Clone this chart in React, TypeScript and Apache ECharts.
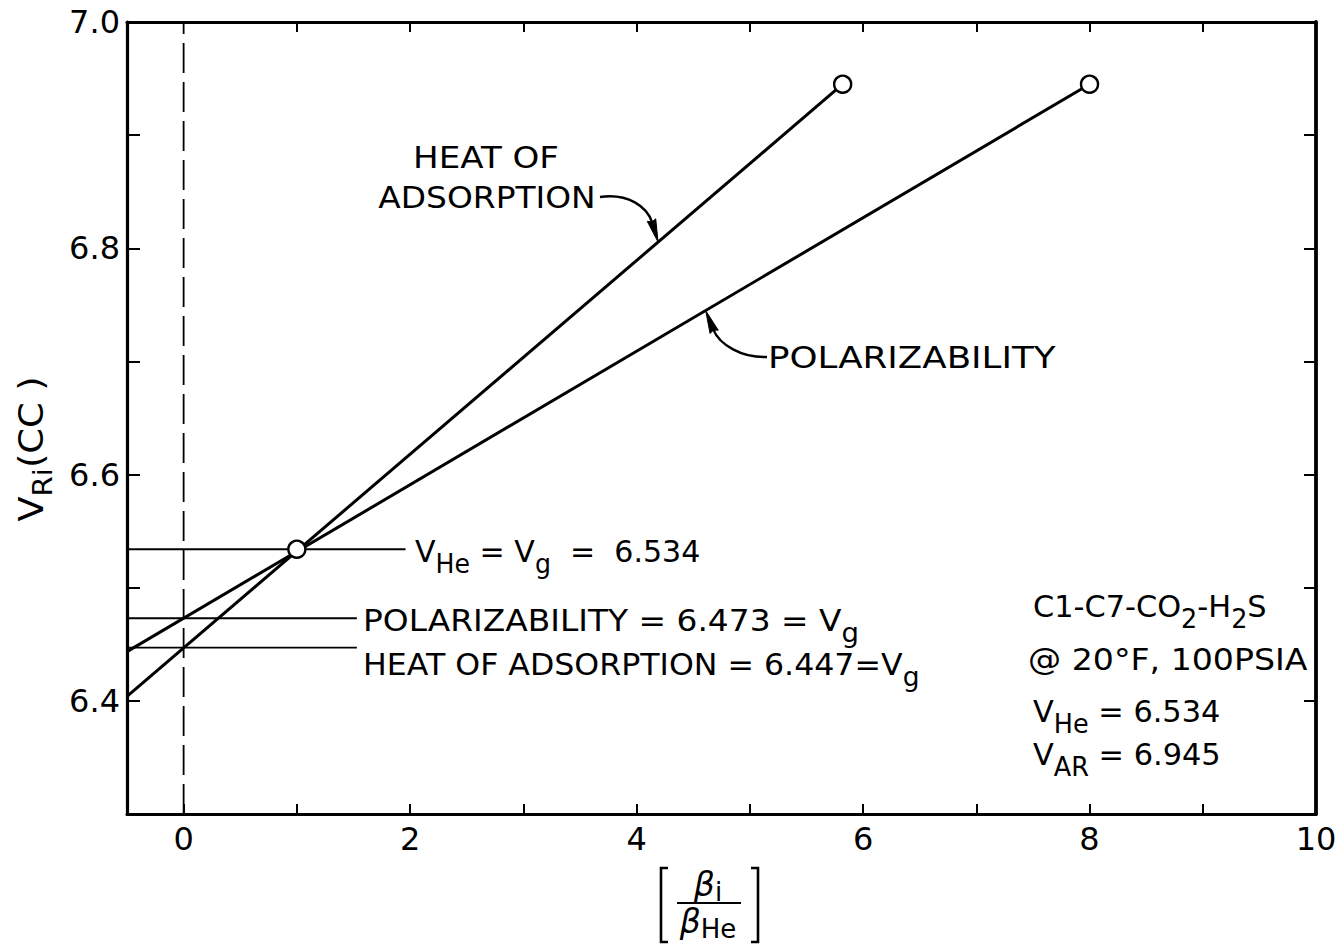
import React, { useEffect, useRef } from "react";
import * as echarts from "echarts";

// Axis ranges and tick positions
const X_MIN = -0.5;
const X_MAX = 10;
const Y_MIN = 6.3;
const Y_MAX = 7.0;
const xTickValues = [0, 1, 2, 3, 4, 5, 6, 7, 8, 9, 10];
const xTopTickValues = [1, 2, 3, 4, 5, 6, 7, 8, 9];
const xLabelValues = [0, 2, 4, 6, 8, 10];
const yTickValues = [6.4, 6.5, 6.6, 6.7, 6.8, 6.9];
const yLabelValues = [6.4, 6.6, 6.8, 7.0];

// Extrapolation lines (beta ratio, V_Ri)
const heatOfAdsorption: number[][] = [
  [-0.5, 6.404],
  [5.82, 6.945],
];
const polarizability: number[][] = [
  [-0.5, 6.4435],
  [8.0, 6.945],
];
// Measured points (open circles)
const measuredPoints: number[][] = [
  [1.0, 6.534],
  [5.82, 6.945],
  [8.0, 6.945],
];
// Void-volume levels read at beta ratio 0 / 1 and where each leader line stops
const levelValues = [6.534, 6.473, 6.447];
const levelEnds = [1.96, 1.53, 1.53];
// Dashed reference at beta ratio = 0
const zeroRef: number[][] = [
  [0, Y_MIN],
  [0, Y_MAX],
];

const FONT = "DejaVu Sans";
const INK = "#000";

function lineAt(pts: number[][], x: number): number {
  const [[x0, y0], [x1, y1]] = pts;
  return y0 + ((y1 - y0) * (x - x0)) / (x1 - x0);
}

const richStyles = (main: number, sub: number, shift: number) => ({
  m: { fontSize: main, fontFamily: FONT, lineHeight: 36, fill: INK },
  s: {
    fontSize: sub,
    fontFamily: FONT,
    lineHeight: 36,
    fill: INK,
    padding: [shift, 0, 0, 0],
  },
});

function label(
  x: number,
  y: number,
  text: string,
  align: string,
  scaleX: number,
  size = 31
) {
  return {
    type: "text",
    x,
    y,
    scaleX,
    silent: true,
    style: {
      text,
      fill: INK,
      fontFamily: FONT,
      fontSize: size,
      align,
      verticalAlign: "middle",
      rich: richStyles(size, 26, 26),
    },
  };
}

function curvedArrow(
  start: number[],
  tip: number[],
  dir: number[],
  cp1: number[],
  cp2Back: number
) {
  const len = Math.hypot(dir[0], dir[1]);
  const d = [dir[0] / len, dir[1] / len];
  const n = [-d[1], d[0]];
  const headLen = 23;
  const half = 4.4;
  const base = [tip[0] - headLen * d[0], tip[1] - headLen * d[1]];
  const cp2 = [base[0] - cp2Back * d[0], base[1] - cp2Back * d[1]];
  return [
    {
      type: "bezierCurve",
      silent: true,
      shape: {
        x1: start[0],
        y1: start[1],
        cpx1: cp1[0],
        cpy1: cp1[1],
        cpx2: cp2[0],
        cpy2: cp2[1],
        x2: base[0] + 3 * d[0],
        y2: base[1] + 3 * d[1],
      },
      style: { stroke: INK, lineWidth: 2.4, fill: "none" },
    },
    {
      type: "polygon",
      silent: true,
      shape: {
        points: [
          tip,
          [base[0] + half * n[0], base[1] + half * n[1]],
          [base[0] + 2 * d[0], base[1] + 2 * d[1]],
          [base[0] - half * n[0], base[1] - half * n[1]],
        ],
      },
      style: { fill: INK, stroke: INK, lineWidth: 1 },
    },
  ];
}

function buildOption() {
  const axisLine = { show: true, onZero: false, lineStyle: { color: INK, width: 3.2 } };
  const labelStyle = { color: INK, fontSize: 32, fontFamily: FONT };
  const levelSeries = levelValues.map((v, i) => ({
    type: "line",
    name: `level-${i}`,
    data: [
      [X_MIN, v],
      [levelEnds[i], v],
    ],
    symbol: "none",
    silent: true,
    lineStyle: { color: INK, width: 1.8 },
    z: 2,
  }));
  return {
    animation: false,
    backgroundColor: "#fff",
    grid: {
      left: 127,
      right: 22,
      top: 22,
      bottom: 131,
      containLabel: false,
      outerBoundsMode: "none",
    },
    xAxis: [
      {
        type: "value",
        position: "bottom",
        min: X_MIN,
        max: X_MAX,
        axisLine,
        axisTick: {
          show: true,
          inside: true,
          length: 10,
          customValues: xTickValues,
          lineStyle: { color: INK, width: 2 },
        },
        axisLabel: {
          show: true,
          customValues: xLabelValues,
          margin: 9,
          ...labelStyle,
        },
        splitLine: { show: false },
      },
      {
        type: "value",
        position: "top",
        min: X_MIN,
        max: X_MAX,
        axisLine,
        axisTick: {
          show: true,
          inside: true,
          length: 10,
          customValues: xTopTickValues,
          lineStyle: { color: INK, width: 2 },
        },
        axisLabel: { show: false },
        splitLine: { show: false },
      },
    ],
    yAxis: [
      {
        type: "value",
        position: "left",
        min: Y_MIN,
        max: Y_MAX,
        axisLine,
        axisTick: {
          show: true,
          inside: true,
          length: 13,
          customValues: yTickValues,
          lineStyle: { color: INK, width: 2 },
        },
        axisLabel: {
          show: true,
          customValues: yLabelValues,
          margin: 7,
          formatter: (v: number) => v.toFixed(1),
          ...labelStyle,
        },
        splitLine: { show: false },
      },
      {
        type: "value",
        position: "right",
        min: Y_MIN,
        max: Y_MAX,
        axisLine: { show: true, onZero: false, lineStyle: { color: INK, width: 3.8 } },
        axisTick: {
          show: true,
          inside: true,
          length: 12,
          customValues: yTickValues,
          lineStyle: { color: INK, width: 2 },
        },
        axisLabel: { show: false },
        splitLine: { show: false },
      },
    ],
    series: [
      {
        type: "line",
        name: "zero",
        data: zeroRef,
        symbol: "none",
        silent: true,
        lineStyle: { color: INK, width: 1.8, type: [30, 9] },
        z: 1,
      },
      ...levelSeries,
      {
        type: "line",
        name: "HEAT OF ADSORPTION",
        data: heatOfAdsorption,
        symbol: "none",
        silent: true,
        lineStyle: { color: INK, width: 3 },
        z: 3,
      },
      {
        type: "line",
        name: "POLARIZABILITY",
        data: polarizability,
        symbol: "none",
        silent: true,
        lineStyle: { color: INK, width: 3 },
        z: 3,
      },
      {
        type: "scatter",
        name: "measured",
        data: measuredPoints,
        symbol: "circle",
        symbolSize: 17,
        silent: true,
        itemStyle: { color: "#fff", borderColor: INK, borderWidth: 2.4, opacity: 1 },
        z: 5,
      },
    ],
  };
}

export default function App() {
  const ref = useRef<HTMLDivElement>(null);

  useEffect(() => {
    const el = ref.current;
    if (!el) return;
    const chart = echarts.init(el, null, { renderer: "svg" });
    chart.setOption(buildOption());

    const toPx = (x: number, y: number) =>
      chart.convertToPixel({ gridIndex: 0 }, [x, y]) as number[];

    // Arrow tips sit on the two lines
    const heatTip = toPx(4.19, lineAt(heatOfAdsorption, 4.19));
    const polarTip = toPx(4.61, lineAt(polarizability, 4.61));

    const heatArrow = curvedArrow([600, 197], heatTip, [0.3, 1], [628, 193], 14);
    const polarArrow = curvedArrow([767, 357], polarTip, [-0.4, -1], [742, 358], 14);

    const fractionRich = {
      b: { fontSize: 33, fontFamily: FONT, fontStyle: "italic", lineHeight: 34, fill: INK },
      s: { fontSize: 26, fontFamily: FONT, lineHeight: 34, fill: INK, padding: [16, 0, 0, 0] },
    };

    const graphics: any[] = [
      // Line annotations
      label(486, 158, "HEAT OF", "center", 1.1),
      label(487, 197, "ADSORPTION", "center", 1.06),
      label(768, 357, "POLARIZABILITY", "left", 1.15),
      ...heatArrow,
      ...polarArrow,
      // Intercept read-outs
      label(415, 551, "{m|V}{s|He}{m| = V}{s|g}{m|  =  6.534}", "left", 0.97),
      label(363, 620, "{m|POLARIZABILITY = 6.473 = V}{s|g}", "left", 1.06),
      label(363, 664, "{m|HEAT OF ADSORPTION = 6.447=V}{s|g}", "left", 1.02),
      // System description
      label(1033, 606, "{m|C1-C7-CO}{s|2}{m|-H}{s|2}{m|S}", "left", 0.98),
      label(1028, 659, "{m|@ 20°F, 100PSIA}", "left", 1.07),
      label(1033, 711, "{m|V}{s|He}{m| = 6.534}", "left", 0.98),
      label(1033, 754, "{m|V}{s|AR}{m| = 6.945}", "left", 0.98),
      // Y axis title
      {
        type: "text",
        x: 31,
        y: 449,
        rotation: Math.PI / 2,
        scaleX: 1.08,
        silent: true,
        style: {
          text: "{m|V}{s|Ri}{m|(CC )}",
          fill: INK,
          fontFamily: FONT,
          fontSize: 34,
          align: "center",
          verticalAlign: "middle",
          rich: richStyles(34, 27, 24),
        },
      },
      // X axis title: [ beta_i / beta_He ]
      {
        type: "text",
        x: 708,
        y: 884,
        silent: true,
        style: {
          text: "{b|β}{s|i}",
          fill: INK,
          align: "center",
          verticalAlign: "middle",
          rich: fractionRich,
        },
      },
      {
        type: "line",
        silent: true,
        shape: { x1: 677, y1: 903, x2: 741, y2: 903 },
        style: { stroke: INK, lineWidth: 2.2 },
      },
      {
        type: "text",
        x: 708,
        y: 921,
        silent: true,
        style: {
          text: "{b|β}{s|He}",
          fill: INK,
          align: "center",
          verticalAlign: "middle",
          rich: fractionRich,
        },
      },
      {
        type: "polyline",
        silent: true,
        shape: { points: [[668, 868], [661, 868], [661, 942], [668, 942]] },
        style: { stroke: INK, lineWidth: 2.6, fill: "none" },
      },
      {
        type: "polyline",
        silent: true,
        shape: { points: [[751, 868], [758, 868], [758, 942], [751, 942]] },
        style: { stroke: INK, lineWidth: 2.6, fill: "none" },
      },
    ];

    chart.setOption({ graphic: graphics });

    return () => chart.dispose();
  }, []);

  return (
    <div
      ref={ref}
      style={{
        position: "fixed",
        left: 0,
        top: 0,
        width: 1338,
        height: 945,
        background: "#fff",
      }}
    />
  );
}
